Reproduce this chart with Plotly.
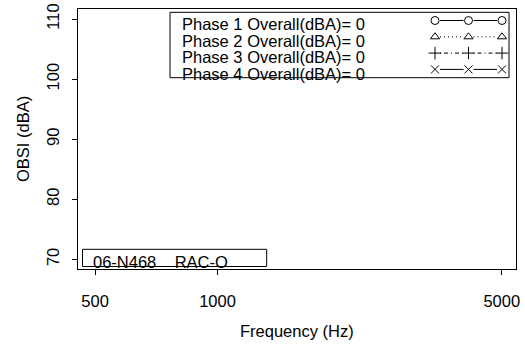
import plotly.graph_objects as go

# ---------------- data ----------------
FREQ_TICKS = [500, 1000, 5000]
FREQ_TICK_LABELS = ["500", "1000", "5000"]
OBSI_TICKS = [70, 80, 90, 100, 110]
PHASES = ["Phase 1", "Phase 2", "Phase 3", "Phase 4"]
PHASE_OVERALL = [0, 0, 0, 0]
# measured spectra (no data in this chart)
PHASE1_FREQ, PHASE1_OBSI = [], []
PHASE2_FREQ, PHASE2_OBSI = [], []
PHASE3_FREQ, PHASE3_OBSI = [], []
PHASE4_FREQ, PHASE4_OBSI = [], []
SECTION_LABEL = "06-N468\u00a0\u00a0\u00a0\u00a0RAC-O"

# ---------------- styling ----------------
W, H = 525, 347
L, R, T, B = 78, 516, 9, 269
FONT = "Liberation Sans, Arial, Helvetica, sans-serif"
FS = 16.5

def px(x):
    return (x - L) / (R - L)

def py(y):
    return (B - y) / (B - T)

SYMBOLS = ["circle-open", "triangle-up-open", "cross-thin-open", "x-thin-open"]
DASHES = ["solid", "1px,3px", "1px,3px,4px,3px", "solid"]
SIZES = [8, 8, 9, 8]

fig = go.Figure()

series = [(PHASE1_FREQ, PHASE1_OBSI), (PHASE2_FREQ, PHASE2_OBSI),
          (PHASE3_FREQ, PHASE3_OBSI), (PHASE4_FREQ, PHASE4_OBSI)]
for i, (fx, fy) in enumerate(series):
    fig.add_trace(go.Scatter(x=fx, y=fy, mode="lines+markers",
                             line=dict(color="black", width=1, dash=DASHES[i]),
                             marker=dict(symbol=SYMBOLS[i], size=SIZES[i], color="black",
                                         line=dict(width=1, color="black")),
                             showlegend=False))

# legend glyphs drawn on a pixel-space overlay axis
sym_x = [435, 468.5, 502]
gap = 5
for i in range(4):
    yy = 20.5 + 16.3 * i
    for a, b in zip(sym_x[:-1], sym_x[1:]):
        fig.add_trace(go.Scatter(x=[a + gap, b - gap], y=[yy, yy], mode="lines",
                                 line=dict(color="black", width=1, dash=DASHES[i]),
                                 xaxis="x2", yaxis="y2", showlegend=False, hoverinfo="skip"))
    fig.add_trace(go.Scatter(x=sym_x, y=[yy] * 3, mode="markers",
                             marker=dict(symbol=SYMBOLS[i], size=SIZES[i], color="black",
                                         line=dict(width=1, color="black")),
                             xaxis="x2", yaxis="y2", showlegend=False, hoverinfo="skip",
                             cliponaxis=False))

shapes = [
    dict(type="rect", xref="paper", yref="paper", x0=px(170), x1=px(509), y0=py(77.7), y1=py(12.3),
         line=dict(color="black", width=1), fillcolor="rgba(0,0,0,0)", layer="above"),
    dict(type="rect", xref="paper", yref="paper", x0=px(82.5), x1=px(266.7), y0=py(266.5), y1=py(249.3),
         line=dict(color="black", width=1), fillcolor="rgba(0,0,0,0)", layer="above"),
]

annotations = []
for i, (ph, ov) in enumerate(zip(PHASES, PHASE_OVERALL)):
    annotations.append(dict(xref="paper", yref="paper", x=px(180), y=py(24 + 16.6 * i),
                            xanchor="left", yanchor="middle", showarrow=False,
                            text=f"{ph} Overall(dBA)= {ov}",
                            font=dict(family=FONT, size=FS, color="black")))
annotations.append(dict(xref="paper", yref="paper", x=px(91), y=py(262),
                        xanchor="left", yanchor="middle", showarrow=False, text=SECTION_LABEL,
                        font=dict(family=FONT, size=FS, color="black")))
annotations.append(dict(xref="paper", yref="paper", x=0.5, y=py(331),
                        xanchor="center", yanchor="middle", showarrow=False, text="Frequency (Hz)",
                        font=dict(family=FONT, size=FS, color="black")))
annotations.append(dict(xref="paper", yref="paper", x=px(23), y=0.5, textangle=-90,
                        xanchor="center", yanchor="middle", showarrow=False, text="OBSI (dBA)",
                        font=dict(family=FONT, size=FS, color="black")))

fig.update_layout(
    width=W, height=H,
    margin=dict(l=L, r=W - R, t=T, b=H - B, autoexpand=False),
    paper_bgcolor="white", plot_bgcolor="white",
    showlegend=False,
    font=dict(family=FONT, size=FS, color="black"),
    xaxis=dict(type="log", range=[2.657, 3.734], tickvals=FREQ_TICKS, ticktext=FREQ_TICK_LABELS,
               ticks="outside", ticklen=5, tickcolor="black", tickwidth=1,
               showline=True, mirror=True, linecolor="black", linewidth=1,
               showgrid=False, zeroline=False, ticklabelstandoff=12, automargin=False,
               tickfont=dict(family=FONT, size=FS, color="black")),
    yaxis=dict(range=[68.4, 111.67], tickvals=OBSI_TICKS, tickangle=-90,
               ticks="outside", ticklen=5, tickcolor="black", tickwidth=1,
               showline=True, mirror=True, linecolor="black", linewidth=1,
               showgrid=False, zeroline=False, ticklabelstandoff=6, automargin=False,
               tickfont=dict(family=FONT, size=FS, color="black")),
    xaxis2=dict(overlaying="x", range=[L, R], visible=False, showgrid=False, zeroline=False,
                automargin=False),
    yaxis2=dict(overlaying="y", range=[B, T], visible=False, showgrid=False, zeroline=False,
                automargin=False),
    shapes=shapes,
    annotations=annotations,
)

fig.write_html("out.html", config={"displayModeBar": False, "staticPlot": True},
               post_script="document.body.style.margin='0';document.body.style.overflow='hidden';")
